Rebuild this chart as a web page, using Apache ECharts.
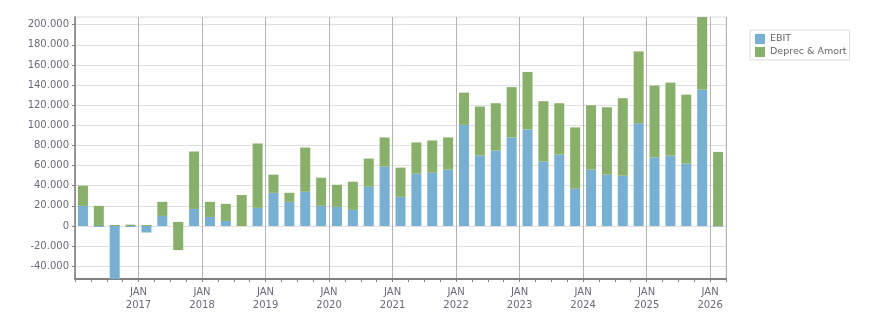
<!DOCTYPE html>
<html>
<head>
<meta charset="utf-8">
<script src="https://cdn.jsdelivr.net/npm/echarts/dist/echarts.min.js"></script>
<style>
  html, body { margin: 0; padding: 0; background: #fff; }
  #main { width: 876px; height: 313px; }
</style>
</head>
<body>
<div id="main"></div>
<script>
// quarters, 2016 Q1 .. 2026 Q1
const quarters = [];
for (let y = 2016; y <= 2026; y++) {
  for (let q = 1; q <= 4; q++) {
    if (y === 2026 && q > 1) break;
    quarters.push(y + " Q" + q);
  }
}

const ebit = [20000, -1000, -52700, -1000, -6500, 10000, 4000, 17000, 9000, 5000,
  0, 18000, 33000, 24000, 34000, 20000, 19000, 16000, 39000, 59000,
  29000, 52000, 53000, 56000, 100500, 70000, 75000, 88000, 96000, 64000,
  71000, 37000, 56000, 51000, 50000, 102000, 68000, 70000, 62000, 135500, -600];

const deprecAmort = [20000, 20000, 1000, 1300, 1000, 14000, -28000, 57000, 15000, 17000,
  30800, 64000, 18000, 9000, 44000, 28000, 22000, 28000, 28000, 29000,
  29000, 31000, 32000, 32000, 32000, 48700, 47000, 50000, 57000, 60000,
  51000, 61000, 64000, 67000, 77000, 71500, 71500, 72500, 68500, 72200, 73600];

const yTicks = [-40000, -20000, 0, 20000, 40000, 60000, 80000, 100000,
  120000, 140000, 160000, 180000, 200000];

const xTickLabels = ["JAN\n2017", "JAN\n2018", "JAN\n2019", "JAN\n2020", "JAN\n2021",
  "JAN\n2022", "JAN\n2023", "JAN\n2024", "JAN\n2025", "JAN\n2026"];

const fmt = (v) => {
  if (v === 0) return "0";
  const s = String(Math.abs(v)).replace(/\B(?=(\d{3})+(?!\d))/g, ".");
  return (v < 0 ? "-" : "") + s;
};

const labelColor = "#6a6a7a";
const font = "DejaVu Sans";

var chart = echarts.init(document.getElementById("main"));
var option = {
  animation: false,
  grid: {
    left: 75, right: 150, top: 17, bottom: 34,
    show: true, borderColor: "#dcdcdc", borderWidth: 1
  },
  legend: {
    orient: "vertical",
    left: 750, top: 30,
    padding: [4, 3, 3, 5],
    borderColor: "#dcdcdc", borderWidth: 1,
    itemWidth: 10, itemHeight: 10, itemGap: 3,
    icon: "rect",
    textStyle: { fontFamily: font, fontSize: 9.5, lineHeight: 10, color: "#666" },
    data: ["EBIT", "Deprec & Amort"]
  },
  xAxis: [
    {
      type: "category",
      data: quarters,
      boundaryGap: true,
      show: false
    },
    {
      type: "value",
      position: "bottom",
      min: 0, max: quarters.length, interval: 4,
      axisLine: { show: true, lineStyle: { color: "#808080", width: 2 } },
      axisTick: { show: true, length: 3, lineStyle: { color: "#808080" } },
      minorTick: { show: true, splitNumber: 4, length: 3, lineStyle: { color: "#808080" } },
      splitLine: { show: true, lineStyle: { color: "#b4b4b4", width: 1 } },
      axisLabel: {
        margin: 7,
        lineHeight: 13,
        fontFamily: font, fontSize: 10, color: labelColor,
        formatter: (v) => (v === 0 ? "" : xTickLabels[v / 4 - 1] || "")
      }
    }
  ],
  yAxis: {
    type: "value",
    min: -52700, max: 207700,
    axisLine: { show: true, lineStyle: { color: "#808080", width: 1.5 } },
    axisTick: { show: true, length: 3, customValues: yTicks, lineStyle: { color: "#808080" } },
    splitLine: { show: true, lineStyle: { color: "#dedede", width: 1 } },
    axisLabel: {
      margin: 6,
      customValues: yTicks,
      fontFamily: font, fontSize: 10, color: labelColor,
      formatter: fmt
    }
  },
  series: [
    {
      name: "EBIT",
      type: "bar",
      stack: "total",
      stackStrategy: "positive",
      barWidth: 10,
      itemStyle: { color: "#78b0d3" },
      data: ebit
    },
    {
      name: "Deprec & Amort",
      type: "bar",
      stack: "total",
      stackStrategy: "positive",
      barWidth: 10,
      itemStyle: { color: "#88b06a" },
      data: deprecAmort
    }
  ]
};
chart.setOption(option);
</script>
</body>
</html>
